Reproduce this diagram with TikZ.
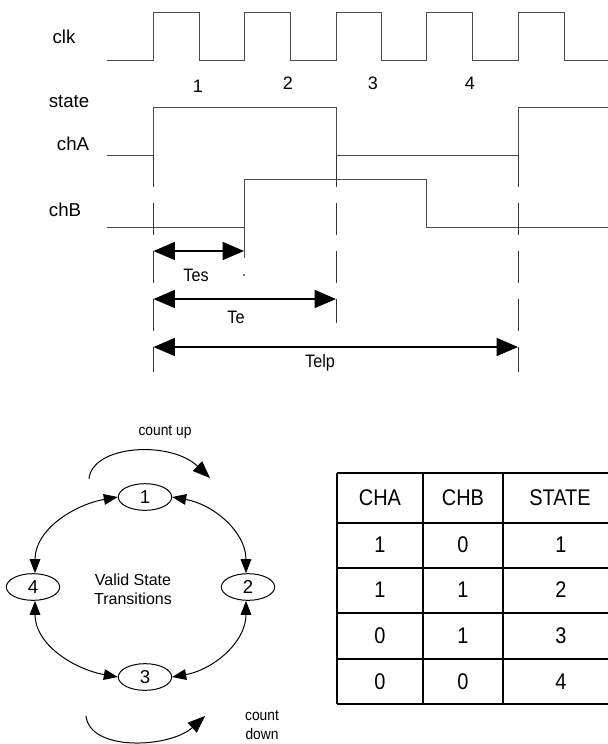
\documentclass[tikz,border=0pt]{standalone}
\usepackage{fontspec}
\setmainfont{Liberation Sans}
\newfontfamily\narrowf[FakeStretch=0.9]{Liberation Sans}
\newfontfamily\condf[FakeStretch=0.88]{Liberation Sans}
\usetikzlibrary{arrows.meta,shapes.geometric}
\tikzset{
  wave/.style={draw=black!70, line width=0.75pt},
  guide/.style={draw=black!80, line width=0.75pt, dash pattern=on 24pt off 12pt},
  dimarrow/.style={draw=black, line width=1pt, {Triangle[length=16pt,width=13.5pt]}-{Triangle[length=16pt,width=13.5pt]}},
  siglabel/.style={font=\fontsize{14}{16}\selectfont, inner sep=0pt},
  numlabel/.style={font=\fontsize{13.5}{16}\selectfont, inner sep=0pt},
  tlabel/.style={font=\narrowf\fontsize{13.5}{16}\selectfont, inner sep=0pt},
  stnode/.style={draw, ellipse, line width=0.75pt, minimum width=40pt, minimum height=20pt, inner sep=0pt, font=\fontsize{14}{16}\selectfont},
  trans/.style={draw, line width=0.75pt, {Triangle[length=10.5pt,width=8pt]}-{Triangle[length=10.5pt,width=8pt]}},
  countarrow/.style={draw, line width=0.75pt, -{Triangle[length=13pt,width=10pt]}},
  smalltext/.style={font=\narrowf\fontsize{11.5}{14}\selectfont, inner sep=0pt, align=center},
  tabline/.style={draw=black, line width=1.1pt},
  tabtext/.style={font=\condf\fontsize{17}{20}\selectfont, inner sep=0pt}
}
\begin{document}
\begin{tikzpicture}[x=0.75pt,y=-0.75pt]
\useasboundingbox (0,0) rectangle (608,744);

% labels
\node[siglabel] (lclk) at (64,37) {clk};
\node[siglabel] (lstate) at (69,102) {state};
\node[siglabel] (lcha) at (73,144) {chA};
\node[siglabel] (lchb) at (65,210) {chB};
\node[numlabel] (n1) at (198,86) {1};
\node[numlabel] (n2) at (288,83) {2};
\node[numlabel] (n3) at (373,83) {3};
\node[numlabel] (n4) at (470,83) {4};

% clock
\draw[wave] (107,60) -- (153.5,60) -- (153.5,12) -- (199,12) -- (199,60) -- (244,60) -- (244,12) -- (290,12) -- (290,60)
  -- (336,60) -- (336,12) -- (381.5,12) -- (381.5,60) -- (426.5,60) -- (426.5,12) -- (472,12) -- (472,60)
  -- (518,60) -- (518,12) -- (564,12) -- (564,60) -- (608,60);

% chA / state
\draw[wave] (107,155) -- (153.5,155) -- (153.5,107) -- (336,107) -- (336,155) -- (518,155) -- (518,107) -- (608,107);

% chB
\draw[wave] (107,227) -- (244,227) -- (244,179) -- (426.5,179) -- (426.5,227) -- (608,227);
\draw[wave] (244,227) -- (244,258);
\fill[black!70] (244,275) circle (0.8pt);

% guides
\draw[guide] (153.5,155) -- (153.5,372);
\draw[guide] (336,155) -- (336,323);
\draw[guide] (518,155) -- (518,372);

% dimension arrows
\coordinate (tesA) at (153.5,251);
\coordinate (tesB) at (244,251);
\coordinate (teA) at (153.5,299);
\coordinate (teB) at (336,299);
\coordinate (telpA) at (153.5,347);
\coordinate (telpB) at (518,347);
\draw[dimarrow] (tesA) -- (tesB);
\draw[dimarrow] (teA) -- (teB);
\draw[dimarrow] (telpA) -- (telpB);
\node[tlabel] (ltes) at (196,275) {Tes};
\node[tlabel] (lte) at (236,317) {Te};
\node[tlabel] (ltelp) at (320,363) {Telp};

% state diagram
\node[stnode] (s1) at (145,497) {1};
\node[stnode] (s2) at (248,587) {2};
\node[stnode] (s3) at (145,677) {3};
\node[stnode] (s4) at (33,587) {4};
\draw[trans] (s1.west) to[out=190,in=90] ([xshift=1.5pt]s4.north);
\draw[trans] (s1.east) to[out=-10,in=90] ([xshift=-1.5pt]s2.north);
\draw[trans] ([xshift=1.5pt]s4.south) to[out=-90,in=170] (s3.west);
\draw[trans] ([xshift=-1.5pt]s2.south) to[out=-90,in=10] (s3.east);
\node[font=\fontsize{12}{14.5}\selectfont, align=center, inner sep=0pt] (valid) at (133,589) {Valid State\\Transitions};

\node[smalltext] (cup) at (165,432) {count up};
\coordinate (cupA) at (89,479);
\coordinate (cupB) at (210,478);
\draw[countarrow] (cupA) .. controls (92,445) and (170,440) .. (cupB);
\node[smalltext] (cdown) at (262,725) {count\\down};
\coordinate (cdA) at (86,716);
\coordinate (cdB) at (205,716);
\draw[countarrow] (cdA) .. controls (90,752) and (170,748) .. (cdB);

% table
\foreach \yy in {473,523,568,613,659,704} \draw[tabline] (337,\yy) -- (608,\yy);
\draw[tabline] (337,473) -- (337,704);
\draw[tabline] (423,473) -- (423,704);
\draw[tabline] (503,473) -- (503,704);
\node[tabtext] (h1) at (380,498) {CHA};
\node[tabtext] (h2) at (463,498) {CHB};
\node[tabtext] (h3) at (560,498) {STATE};
\node[tabtext] (a1) at (380,545) {1};
\node[tabtext] (b1) at (463,545) {0};
\node[tabtext] (c1) at (561,545) {1};
\node[tabtext] (a2) at (380,590) {1};
\node[tabtext] (b2) at (463,590) {1};
\node[tabtext] (c2) at (561,590) {2};
\node[tabtext] (a3) at (380,636) {0};
\node[tabtext] (b3) at (463,636) {1};
\node[tabtext] (c3) at (561,636) {3};
\node[tabtext] (a4) at (380,682) {0};
\node[tabtext] (b4) at (463,682) {0};
\node[tabtext] (c4) at (561,682) {4};
\end{tikzpicture}
\end{document}
